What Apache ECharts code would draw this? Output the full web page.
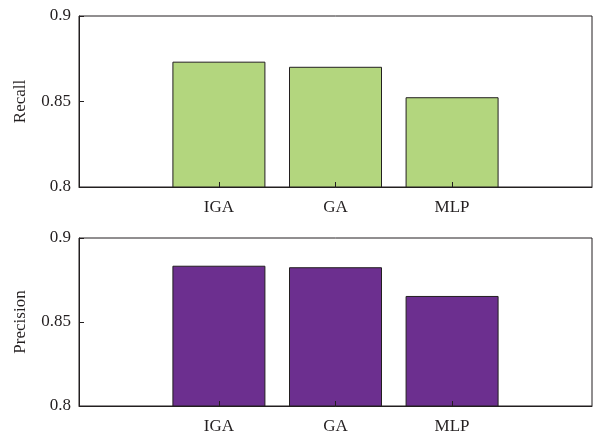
<!DOCTYPE html>
<html>
<head>
<meta charset="utf-8">
<script src="https://cdn.jsdelivr.net/npm/echarts@6/dist/echarts.min.js"></script>
<style>
  html, body { margin: 0; padding: 0; background: #fff; }
  #chart { width: 595px; height: 438px; }
</style>
</head>
<body>
<div id="chart"></div>
<script>
// Model names and their positions along the x axis
const categories = ['IGA', 'GA', 'MLP'];
const positions = [1, 2, 3];

// Scores per model
const recall = [0.8733, 0.8703, 0.8525];
const precision = [0.8835, 0.8826, 0.8655];

// Y-axis tick values
const yTicks = [0.8, 0.85, 0.9];

const FONT = '"Liberation Serif", "DejaVu Serif", serif';
const INK = '#231f20';

function pairs(values) {
  return positions.map((p, i) => [p, values[i]]);
}

function xAxisFor(gridIndex) {
  return {
    type: 'value', gridIndex, min: -0.2, max: 4.2, z: 5,
    axisLine: { show: true, onZero: false, lineStyle: { color: INK, width: 1 } },
    axisTick: { show: true, inside: true, length: 5, customValues: positions, lineStyle: { color: INK } },
    axisLabel: {
      show: true, customValues: positions, margin: 12,
      formatter: v => categories[positions.indexOf(Math.round(v))] || '',
      fontFamily: FONT, fontSize: 17, color: INK
    },
    splitLine: { show: false }
  };
}

function yAxisFor(gridIndex, name) {
  return {
    type: 'value', gridIndex, min: yTicks[0], max: yTicks[yTicks.length - 1], interval: 0.05, z: 5,
    name, nameLocation: 'middle', nameGap: 50,
    nameTextStyle: { fontFamily: FONT, fontSize: 17, color: INK },
    axisLine: { show: true, onZero: false, lineStyle: { color: INK, width: 1 } },
    axisTick: { show: true, inside: true, length: 5, lineStyle: { color: INK } },
    axisLabel: { margin: 8, fontFamily: FONT, fontSize: 17, color: INK },
    splitLine: { show: false }
  };
}

function barSeries(index, values, color) {
  return {
    type: 'bar', xAxisIndex: index, yAxisIndex: index,
    data: pairs(values), barWidth: 93, clip: true,
    itemStyle: { color, borderColor: INK, borderWidth: 1 },
    emphasis: { disabled: true }, animation: false
  };
}

const chart = echarts.init(document.getElementById('chart'), null, { renderer: 'canvas' });
chart.setOption({
  animation: false,
  grid: [
    { left: 79, top: 16, width: 513, height: 171, show: true, borderColor: INK, borderWidth: 1, backgroundColor: '#fff' },
    { left: 79, top: 238, width: 513, height: 168, show: true, borderColor: INK, borderWidth: 1, backgroundColor: '#fff' }
  ],
  xAxis: [xAxisFor(0), xAxisFor(1)],
  yAxis: [yAxisFor(0, 'Recall'), yAxisFor(1, 'Precision')],
  series: [
    barSeries(0, recall, '#b3d67e'),
    barSeries(1, precision, '#6c2f8f')
  ]
});
</script>
</body>
</html>
